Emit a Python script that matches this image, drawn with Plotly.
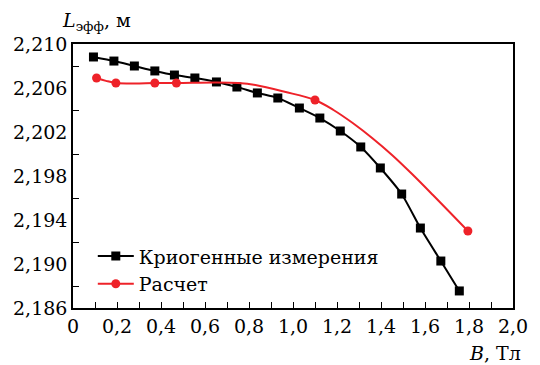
import plotly.graph_objects as go

# Measured data (black squares)
meas_B = [0.093, 0.186, 0.279, 0.372, 0.461, 0.554, 0.652, 0.745, 0.838, 0.931,
          1.029, 1.122, 1.215, 1.308, 1.397, 1.494, 1.579, 1.672, 1.756]
meas_L = [2.20882, 2.20845, 2.20800, 2.20755, 2.20718, 2.20691, 2.20655, 2.20609,
          2.20555, 2.20509, 2.20418, 2.20327, 2.20209, 2.20064, 2.19873, 2.19636,
          2.19327, 2.19027, 2.18755]

# Calculated points (red circles)
calc_B = [0.107, 0.195, 0.372, 0.470, 1.100, 1.795]
calc_L = [2.20691, 2.20645, 2.20645, 2.20645, 2.20491, 2.19300]

# Calculated curve
curve_B = [0.107, 0.15, 0.195, 0.28, 0.372, 0.470, 0.652, 0.75, 0.829, 0.962,
           1.100, 1.184, 1.273, 1.361, 1.450, 1.54, 1.636, 1.795]
curve_L = [2.20691, 2.20665, 2.20645, 2.20642, 2.20645, 2.20645, 2.20650, 2.20645,
           2.20627, 2.20566, 2.20491, 2.20400, 2.20279, 2.20143, 2.19991, 2.19820,
           2.19627, 2.19300]

x_tickvals = [0, 0.2, 0.4, 0.6, 0.8, 1.0, 1.2, 1.4, 1.6, 1.8, 2.0]
x_ticktext = ["0", "0,2", "0,4", "0,6", "0,8", "1,0", "1,2", "1,4", "1,6", "1,8", "2,0"]
y_tickvals = [2.186, 2.190, 2.194, 2.198, 2.202, 2.206, 2.210]
y_ticktext = ["2,186", "2,190", "2,194", "2,198", "2,202", "2,206", "2,210"]
y_minorvals = [2.188, 2.192, 2.196, 2.200, 2.204, 2.208]
x_minorvals = [0.1, 0.3, 0.5, 0.7, 0.9, 1.1, 1.3, 1.5, 1.7, 1.9]

series_names = ["Криогенные измерения", "Расчет"]

BLACK = "#000000"
RED = "#ee2229"
FONT = "DejaVu Serif"
FS = 19

fig = go.Figure()
fig.add_trace(go.Scatter(
    x=meas_B, y=meas_L, mode="lines+markers", name=series_names[0],
    line=dict(color=BLACK, width=2, shape="spline", smoothing=0.6),
    marker=dict(symbol="square", size=9, color=BLACK),
))
fig.add_trace(go.Scatter(
    x=curve_B, y=curve_L, mode="lines", showlegend=False,
    line=dict(color=RED, width=2, shape="spline", smoothing=1.0),
    hoverinfo="skip",
))
fig.add_trace(go.Scatter(
    x=calc_B, y=calc_L, mode="markers", showlegend=False,
    marker=dict(symbol="circle", size=9, color=RED),
))
fig.add_trace(go.Scatter(
    x=[None], y=[None], mode="lines+markers", name=series_names[1],
    line=dict(color=RED, width=2),
    marker=dict(symbol="circle", size=9, color=RED),
))

fig.update_layout(
    width=540, height=365,
    margin=dict(l=73, r=16, t=44, b=57),
    paper_bgcolor="white", plot_bgcolor="white",
    font=dict(family=FONT, size=FS, color=BLACK),
    showlegend=True,
    legend=dict(x=0.045, y=0.268, xanchor="left", yanchor="top",
                bgcolor="rgba(0,0,0,0)", font=dict(family=FONT, size=FS),
                tracegroupgap=0, itemwidth=36),
    xaxis=dict(
        range=[0, 2.0], showgrid=False, zeroline=False,
        showline=True, linecolor=BLACK, linewidth=1.5, mirror=True,
        tickmode="array", tickvals=x_tickvals, ticktext=x_ticktext,
        ticks="inside", ticklen=6, tickwidth=1, tickcolor=BLACK,
        minor=dict(tickmode="array", tickvals=x_minorvals, ticks="inside",
                   ticklen=6, tickwidth=1, tickcolor=BLACK),
        tickfont=dict(family=FONT, size=FS),
    ),
    yaxis=dict(
        range=[2.186, 2.210], showgrid=False, zeroline=False,
        showline=True, linecolor=BLACK, linewidth=1.5, mirror=True,
        tickmode="array", tickvals=y_tickvals, ticktext=y_ticktext,
        ticks="", ticklen=0,
        minor=dict(tickmode="array", tickvals=y_minorvals, ticks="inside",
                   ticklen=6, tickwidth=1, tickcolor=BLACK),
        tickfont=dict(family=FONT, size=FS),
    ),
    annotations=[
        dict(text="<i>L</i><sub>эфф</sub>, м", xref="paper", yref="paper",
             x=-0.03, y=1.0, xanchor="left", yanchor="bottom", yshift=8,
             showarrow=False, font=dict(family=FONT, size=FS)),
        dict(text="<i>B</i>, Тл", xref="paper", yref="paper",
             x=1.022, y=0, xanchor="right", yanchor="top", yshift=-32,
             showarrow=False, font=dict(family=FONT, size=FS)),
    ],
)

fig.write_html("out.html")
